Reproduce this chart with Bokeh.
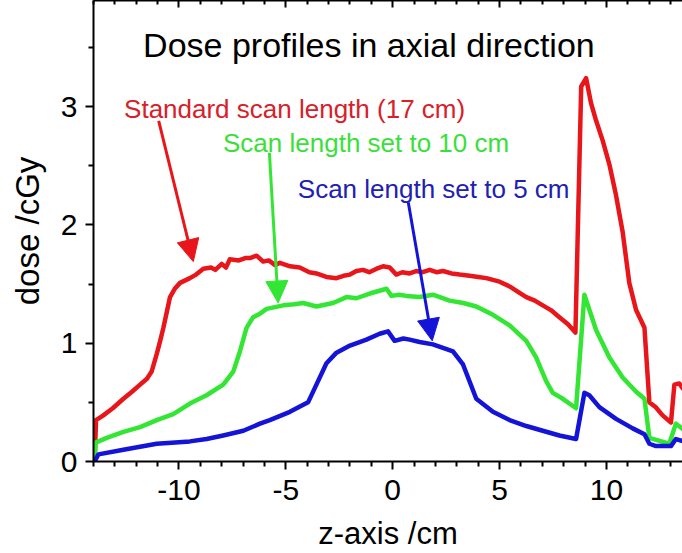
from bokeh.plotting import figure
from bokeh.models import (Range1d, LinearAxis, FixedTicker, Label, Arrow, NormalHead)
from bokeh.embed import file_html
from bokeh.resources import INLINE

# ---------------- data ----------------
red_x = [-13.95, -13.88, -13.54, -13.1, -12.6, -12.2, -11.82, -11.5, -11.28, -11.04, -10.88,
         -10.73, -10.55, -10.42, -10.2, -9.95, -9.49, -9.2, -8.86, -8.5, -8.3, -8.0, -7.8,
         -7.62, -7.2, -6.9, -6.68, -6.37, -6.06, -5.8, -5.5, -5.28, -4.8, -4.35, -3.9, -3.57,
         -3.1, -2.63, -2.3, -2.0, -1.7, -1.39, -1.1, -0.75, -0.45, -0.14, 0.17, 0.45, 0.79,
         1.1, 1.4, 1.73, 2.05, 2.35, 2.75, 3.13, 3.6, 4.0, 4.38, 5.0, 5.47, 5.9, 6.25, 6.65,
         7.02, 7.4, 7.8, 8.2, 8.55, 8.82, 9.05, 9.28, 9.52, 9.83, 10.14, 10.45, 10.76, 11.07,
         11.39, 11.78, 12.01, 12.3, 12.63, 13.02, 13.18, 13.41, 13.6]
red_y = [0.0, 0.35, 0.39, 0.45, 0.53, 0.59, 0.65, 0.70, 0.76, 0.91, 1.02,
         1.13, 1.28, 1.39, 1.46, 1.51, 1.55, 1.58, 1.63, 1.64, 1.62, 1.67, 1.64,
         1.71, 1.70, 1.72, 1.72, 1.74, 1.69, 1.70, 1.66, 1.68, 1.65, 1.64, 1.60, 1.59,
         1.56, 1.55, 1.57, 1.58, 1.61, 1.62, 1.60, 1.63, 1.65, 1.64, 1.58, 1.60, 1.59,
         1.61, 1.60, 1.62, 1.60, 1.61, 1.59, 1.58, 1.57, 1.56, 1.55, 1.52, 1.48, 1.43, 1.39, 1.36,
         1.32, 1.28, 1.22, 1.16, 1.09, 3.17, 3.24, 3.03, 2.88, 2.71, 2.51, 2.25, 1.94, 1.51,
         1.28, 1.13, 0.50, 0.46, 0.39, 0.33, 0.65, 0.66, 0.61]

green_x = [-13.95, -13.9, -13.38, -12.6, -11.82, -11.04, -10.27, -9.49, -8.71, -7.93, -7.46,
           -7.15, -6.84, -6.53, -6.21, -5.9, -5.12, -4.6, -4.19, -3.57, -2.79, -2.16, -1.7,
           -1.07, -0.29, -0.06, 0.3, 0.64, 1.26, 1.88, 2.66, 3.3, 3.91, 4.69, 5.47, 6.25,
           6.71, 7.18, 7.49, 7.96, 8.58, 8.97, 9.52, 10.14, 10.76, 11.39, 11.78, 12.01,
           12.94, 13.25, 13.6]
green_y = [0.0, 0.16, 0.20, 0.25, 0.29, 0.35, 0.40, 0.49, 0.56, 0.65, 0.76,
           0.93, 1.13, 1.22, 1.25, 1.29, 1.32, 1.33, 1.34, 1.31, 1.34, 1.39, 1.38,
           1.42, 1.46, 1.40, 1.41, 1.40, 1.39, 1.41, 1.36, 1.34, 1.31, 1.24, 1.15, 1.02,
           0.88, 0.68, 0.58, 0.53, 0.45, 1.41, 1.11, 0.88, 0.71, 0.59, 0.53, 0.20,
           0.15, 0.32, 0.27]

blue_x = [-13.95, -13.77, -12.6, -11.04, -9.49, -8.71, -7.93, -6.99, -6.21, -5.75, -4.81,
          -3.96, -3.57, -3.1, -2.63, -2.0, -1.23, -0.61, -0.22, 0.09, 0.5, 0.79, 1.26, 1.88,
          2.82, 3.29, 3.91, 4.69, 5.47, 6.25, 7.02, 7.8, 8.58, 8.97, 9.2, 9.67, 10.45, 11.23,
          11.78, 12.01, 12.32, 13.02, 13.25, 13.6]
blue_y = [0.0, 0.06, 0.10, 0.15, 0.17, 0.19, 0.22, 0.26, 0.32, 0.35, 0.42,
          0.50, 0.65, 0.83, 0.92, 0.98, 1.03, 1.08, 1.10, 1.02, 1.04, 1.03, 1.01, 0.99,
          0.93, 0.82, 0.53, 0.42, 0.35, 0.30, 0.26, 0.22, 0.19, 0.58, 0.56, 0.46, 0.36, 0.28,
          0.23, 0.15, 0.13, 0.13, 0.19, 0.17]

x_major_ticks = [-10, -5, 0, 5, 10]
x_tick_labels = ["-10", "-5", "0", "5", "10"]
x_minor_ticks = [-14, -13, -12, -11, -9, -8, -7, -6, -4, -3, -2, -1, 1, 2, 3, 4, 6, 7, 8, 9,
                 11, 12, 13]
y_major_ticks = [0, 1, 2, 3]
y_minor_ticks = [0.5, 1.5, 2.5, 3.5]

title_text = "Dose profiles in axial direction"
series_labels = ["Standard scan length (17 cm)", "Scan length set to 10 cm",
                 "Scan length set to 5 cm"]
label_x = [-12.57, -7.94, -4.44]
label_y = [2.98, 2.69, 2.30]
arrow_x0 = [-10.95, -5.77, 0.73]
arrow_y0 = [2.88, 2.61, 2.19]
arrow_x1 = [-9.33, -5.36, 1.85]
arrow_y1 = [1.69, 1.34, 1.02]

line_colors = ["#e8161a", "#33e633", "#1414d8"]
text_colors = ["#d82028", "#3ae03a", "#2020b4"]

FONT = "Liberation Sans"

# ---------------- figure ----------------
p = figure(width=682, height=553, output_backend="svg", toolbar_location=None,
           x_range=Range1d(-14, 13.56), y_range=Range1d(0, 3.897),
           min_border_left=93, min_border_right=0, min_border_top=0, min_border_bottom=91,
           background_fill_color="white", border_fill_color="white")
p.outline_line_color = None
p.grid.visible = False

for xs, ys, c in [(red_x, red_y, line_colors[0]), (green_x, green_y, line_colors[1]),
                  (blue_x, blue_y, line_colors[2])]:
    p.line(xs, ys, line_color=c, line_width=4.5, line_join="round")

# axes styling
for ax in (p.xaxis[0], p.yaxis[0]):
    ax.axis_line_width = 2
    ax.axis_line_color = "black"
    ax.major_tick_line_width = 2
    ax.minor_tick_line_width = 2
    ax.major_tick_out = 8
    ax.major_tick_in = 0
    ax.minor_tick_out = 5
    ax.minor_tick_in = 0
    ax.major_label_text_font = FONT
    ax.major_label_text_font_size = "30px"
    ax.major_label_text_color = "black"
    ax.axis_label_text_font = FONT
    ax.axis_label_text_font_style = "normal"
    ax.axis_label_text_color = "black"

p.xaxis[0].ticker = FixedTicker(ticks=x_major_ticks, minor_ticks=x_minor_ticks)
p.xaxis[0].major_label_overrides = dict(zip(x_major_ticks, x_tick_labels))
p.yaxis[0].ticker = FixedTicker(ticks=y_major_ticks, minor_ticks=y_minor_ticks)
p.xaxis[0].axis_label = "z-axis /cm"
p.xaxis[0].axis_label_text_font_size = "31px"
p.xaxis[0].major_label_standoff = 10
p.xaxis[0].axis_label_standoff = 13
p.yaxis[0].axis_label = "dose /cGy"
p.yaxis[0].axis_label_text_font_size = "33px"
p.yaxis[0].major_label_standoff = 8
p.yaxis[0].axis_label_standoff = 12
p.yaxis[0].major_label_orientation = "horizontal"

top = LinearAxis(ticker=FixedTicker(ticks=x_major_ticks, minor_ticks=x_minor_ticks),
                 major_label_text_font_size="0px", major_label_standoff=0,
                 major_tick_out=0, major_tick_in=7, minor_tick_out=0, minor_tick_in=4,
                 axis_line_width=2, major_tick_line_width=2, minor_tick_line_width=2,
                 major_label_overrides={t: "" for t in x_major_ticks})
p.add_layout(top, "above")

# title and annotations
p.add_layout(Label(x=-11.68, y=3.52, text=title_text, text_font=FONT,
                   text_font_size="34px", text_color="black", text_baseline="alphabetic"))
for i in range(3):
    p.add_layout(Label(x=label_x[i], y=label_y[i], text=series_labels[i], text_font=FONT,
                       text_font_size="26px", text_color=text_colors[i],
                       text_baseline="alphabetic"))
    p.add_layout(Arrow(x_start=arrow_x0[i], y_start=arrow_y0[i], x_end=arrow_x1[i],
                       y_end=arrow_y1[i], line_color=line_colors[i], line_width=3,
                       end=NormalHead(size=22, fill_color=line_colors[i],
                                      line_color=line_colors[i], line_width=1)))

open("out.html", "w").write(file_html(p, INLINE))
